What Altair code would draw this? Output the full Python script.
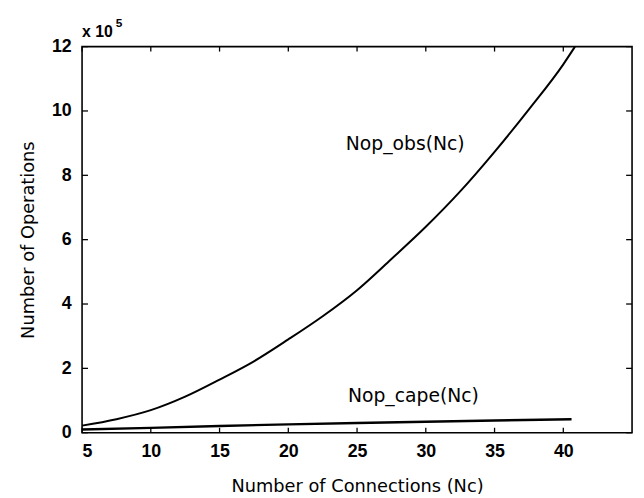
import altair as alt
import pandas as pd

# data (values in units of 1e5 operations)
nc_obs = [5, 7.5, 10, 12.5, 15, 17.5, 20, 22.5, 25, 27.5, 30, 32.5, 35, 37.5, 40, 40.85]
nop_obs = [0.22, 0.42, 0.70, 1.12, 1.65, 2.22, 2.90, 3.62, 4.43, 5.40, 6.40, 7.50, 8.73, 10.05, 11.45, 12.0]
nc_cape = [5, 10, 15, 20, 25, 30, 35, 40.6]
nop_cape = [0.10, 0.15, 0.21, 0.26, 0.30, 0.34, 0.38, 0.42]
x_ticks = [5, 10, 15, 20, 25, 30, 35, 40]
y_ticks = [0, 2, 4, 6, 8, 10, 12]
labels = ["Nop_obs(Nc)", "Nop_cape(Nc)"]
label_x = [28.5, 29.1]
label_y = [8.79, 0.94]

W, H = 557, 391
FONT = "DejaVu Sans"
TICKFONT = "Liberation Sans"

xs = alt.Scale(domain=[5, 45], nice=False, zero=False)
ys = alt.Scale(domain=[0, 12], nice=False, zero=False)

df_obs = pd.DataFrame({"nc": nc_obs, "nop": nop_obs, "s": "obs"})
df_cape = pd.DataFrame({"nc": nc_cape, "nop": nop_cape, "s": "cape"})
df_lab = pd.DataFrame({"t": labels, "x": label_x, "y": label_y})
df_xt = pd.DataFrame({"v": x_ticks})
df_yt = pd.DataFrame({"v": y_ticks})

xaxis = alt.Axis(values=x_ticks, ticks=False, domain=False, grid=False,
                 labelFont=TICKFONT, labelFontSize=18, labelFontWeight="bold",
                 labelColor="black",
                 labelPadding=10, title="Number of Connections (Nc)",
                 titleFont=FONT, titleFontSize=18, titleFontWeight="normal",
                 titleColor="black", titlePadding=18)
yaxis = alt.Axis(values=y_ticks, ticks=False, domain=False, grid=False,
                 labelFont=TICKFONT, labelFontSize=18, labelFontWeight="bold",
                 labelColor="black",
                 labelPadding=11, title="Number of Operations",
                 titleFont=FONT, titleFontSize=18, titleFontWeight="normal",
                 titleColor="black", titlePadding=14)

base_obs = alt.Chart(df_obs).mark_line(color="black", strokeWidth=2,
                                       interpolate="monotone").encode(
    x=alt.X("nc:Q", scale=xs, axis=xaxis),
    y=alt.Y("nop:Q", scale=ys, axis=yaxis),
)
line_cape = alt.Chart(df_cape).mark_line(color="black", strokeWidth=2.4).encode(
    x=alt.X("nc:Q", scale=xs), y=alt.Y("nop:Q", scale=ys)
)
text = alt.Chart(df_lab).mark_text(font=FONT, fontSize=19, color="black",
                                   align="center", baseline="alphabetic").encode(
    x=alt.X("x:Q", scale=xs), y=alt.Y("y:Q", scale=ys), text="t:N"
)

TL = 5
xt_bottom = alt.Chart(df_xt).mark_rule(color="black", strokeWidth=1.3).encode(
    x=alt.X("v:Q", scale=xs), y=alt.value(H), y2=alt.value(H - TL))
xt_top = alt.Chart(df_xt).mark_rule(color="black", strokeWidth=1.3).encode(
    x=alt.X("v:Q", scale=xs), y=alt.value(0), y2=alt.value(TL))
yt_left = alt.Chart(df_yt).mark_rule(color="black", strokeWidth=1.3).encode(
    y=alt.Y("v:Q", scale=ys), x=alt.value(0), x2=alt.value(TL + 1))
yt_right = alt.Chart(df_yt).mark_rule(color="black", strokeWidth=1.3).encode(
    y=alt.Y("v:Q", scale=ys), x=alt.value(W), x2=alt.value(W - TL - 1))

exp_df = pd.DataFrame({"t": ["x 10"], "s": ["5"]})
exp_main = alt.Chart(exp_df).mark_text(font=TICKFONT, fontSize=16, fontWeight="bold",
                                       color="black",
                                       align="left", baseline="alphabetic").encode(
    x=alt.value(0), y=alt.value(-10), text="t:N")
exp_sup = alt.Chart(exp_df).mark_text(font=TICKFONT, fontSize=12, fontWeight="bold",
                                      color="black",
                                      align="left", baseline="alphabetic").encode(
    x=alt.value(34), y=alt.value(-20), text="s:N")

chart = alt.layer(base_obs, line_cape, text, xt_bottom, xt_top, yt_left, yt_right,
                  exp_main, exp_sup).properties(
    width=W, height=H,
    autosize=alt.AutoSizeParams(type="none"),
    padding={"left": 75, "top": 36, "right": 4, "bottom": 62},
    background="white",
).configure_view(stroke="black", strokeWidth=1.6)

chart.save("out.html", embed_options={"renderer": "svg", "actions": False})
